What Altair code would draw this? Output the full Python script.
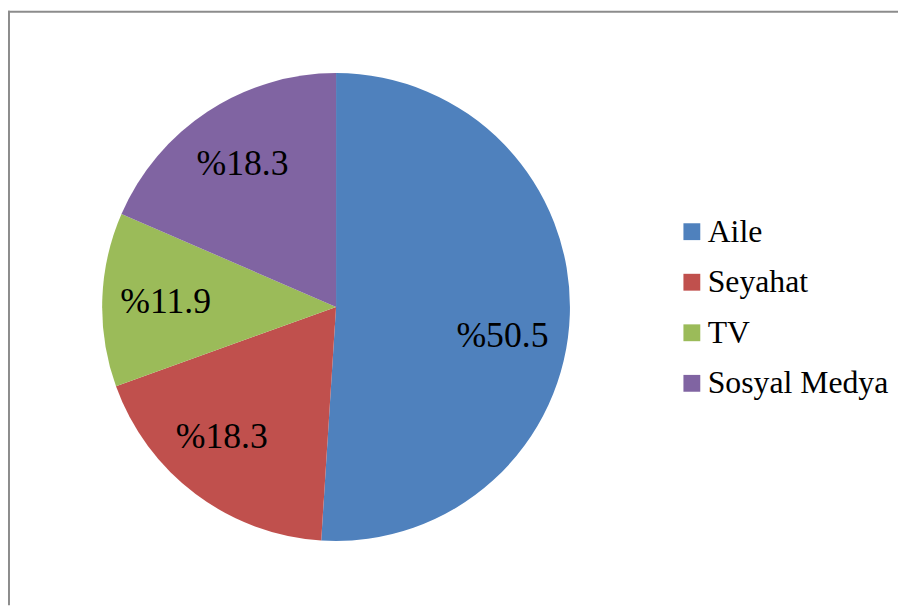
import altair as alt
import pandas as pd

categories = ["Aile", "Seyahat", "TV", "Sosyal Medya"]
values = [50.5, 18.3, 11.9, 18.3]
labels = ["%50.5", "%18.3", "%11.9", "%18.3"]
colors = ["#4F81BD", "#C0504D", "#9BBB59", "#8064A2"]

df = pd.DataFrame({"kategori": categories, "deger": values, "etiket": labels, "sira": list(range(len(categories)))})

W, H = 898, 600
CX, CY = 331, 299
R = 236
SERIF = "Liberation Serif"

base = alt.Chart(df).encode(
    theta=alt.Theta("deger:Q", stack=True),
    order=alt.Order("sira:Q", sort="ascending"),
)

pie = base.mark_arc(outerRadius=R).encode(
    x=alt.value(CX),
    y=alt.value(CY),
    color=alt.Color(
        "kategori:N",
        scale=alt.Scale(domain=categories, range=colors),
        sort=categories,
        legend=alt.Legend(
            title=None,
            orient="none",
            legendX=674,
            legendY=207,
            symbolType="square",
            symbolSize=289,
            symbolStrokeWidth=0,
            symbolOpacity=1,
            labelFont=SERIF,
            labelFontSize=32,
            labelColor="black",
            labelOffset=0,
            labelLimit=0,
            rowPadding=19,
            padding=0,
        ),
    ),
)

def label_layer(names, dx=0, dy=0):
    test = alt.FieldOneOfPredicate(field="kategori", oneOf=names)
    return base.mark_text(
        radius=172, dx=dx, dy=dy, font=SERIF, fontSize=36, color="black",
        align="center", baseline="middle",
    ).encode(
        x=alt.value(CX),
        y=alt.value(CY),
        text="etiket:N",
        opacity=alt.condition(test, alt.value(1), alt.value(0)),
    )

txt_a = label_layer(["Aile"], dx=-4, dy=24)
txt_b = label_layer(["Seyahat"], dx=-12, dy=-6)
txt_c = label_layer(["TV", "Sosyal Medya"])

frame_df = pd.DataFrame({"k": [0]})
frame_top = alt.Chart(frame_df).mark_rule(color="#8c8c8c", strokeWidth=2).encode(
    x=alt.value(0), x2=alt.value(W), y=alt.value(1)
)
frame_left = alt.Chart(frame_df).mark_rule(color="#8c8c8c", strokeWidth=2).encode(
    x=alt.value(1), y=alt.value(0), y2=alt.value(H)
)

chart = alt.layer(pie, txt_a, txt_b, txt_c, frame_top, frame_left).properties(
    width=W, height=H, autosize="none", padding=0, background="white"
).configure_view(strokeWidth=0)

chart.save("out.html", embed_options={"renderer": "svg", "actions": False})
